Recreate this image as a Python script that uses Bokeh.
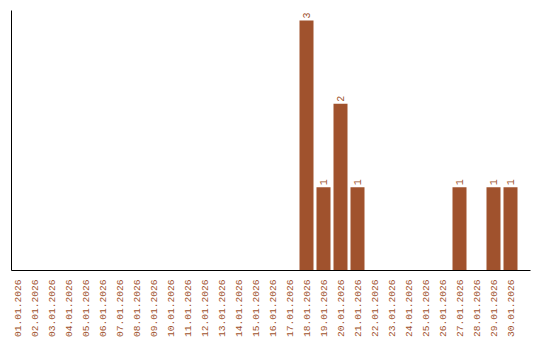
import math
from bokeh.plotting import figure
from bokeh.models import ColumnDataSource, Range1d, FixedTicker
from bokeh.core.properties import value
from bokeh.embed import file_html
from bokeh.resources import INLINE

dates = ["%02d.01.2026" % d for d in range(1, 31)]
counts = [0]*17 + [3, 1, 2, 1, 0, 0, 0, 0, 0, 1, 0, 1, 1]

xs = list(range(1, 31))
src = ColumnDataSource(dict(x=xs, top=counts))
nz = [i for i, c in enumerate(counts) if c > 0]
lsrc = ColumnDataSource(dict(x=[xs[i] for i in nz], y=[counts[i] for i in nz],
                             lbl=[str(counts[i]) for i in nz]))

p = figure(frame_width=519, frame_height=260, output_backend="svg", toolbar_location=None,
           x_range=Range1d(1 - 6/17, 30 + 20/17), y_range=Range1d(0, 3.12),
           min_border_left=11, min_border_right=10, min_border_top=10, min_border_bottom=0)
p.outline_line_color = None
p.grid.visible = False
p.background_fill_color = "white"

p.vbar(x="x", top="top", width=14/17, source=src, color="#A0522D", line_color=None)
p.text(x="x", y="y", text="lbl", source=lsrc, angle=math.pi/2, y_offset=-2,
       text_align="left", text_baseline="middle", text_color="#A0522D",
       text_font=value("Liberation Mono"), text_font_size="10px")

p.xaxis.ticker = FixedTicker(ticks=xs)
p.xaxis.major_label_overrides = {x: d for x, d in zip(xs, dates)}
p.xaxis.major_label_orientation = math.pi/2
p.xaxis.major_label_text_color = "#A0522D"
p.xaxis.major_label_text_font = "Liberation Mono"
p.xaxis.major_label_text_font_size = "9.6px"
p.xaxis.major_tick_line_color = None
p.xaxis.minor_tick_line_color = None
p.xaxis.major_label_standoff = 3
p.xaxis.axis_line_color = "black"

p.yaxis.ticker = FixedTicker(ticks=[])
p.yaxis.major_tick_line_color = None
p.yaxis.minor_tick_line_color = None
p.yaxis.major_label_standoff = 0
p.yaxis.axis_line_color = "black"

open("out.html", "w").write(file_html(p, INLINE))
